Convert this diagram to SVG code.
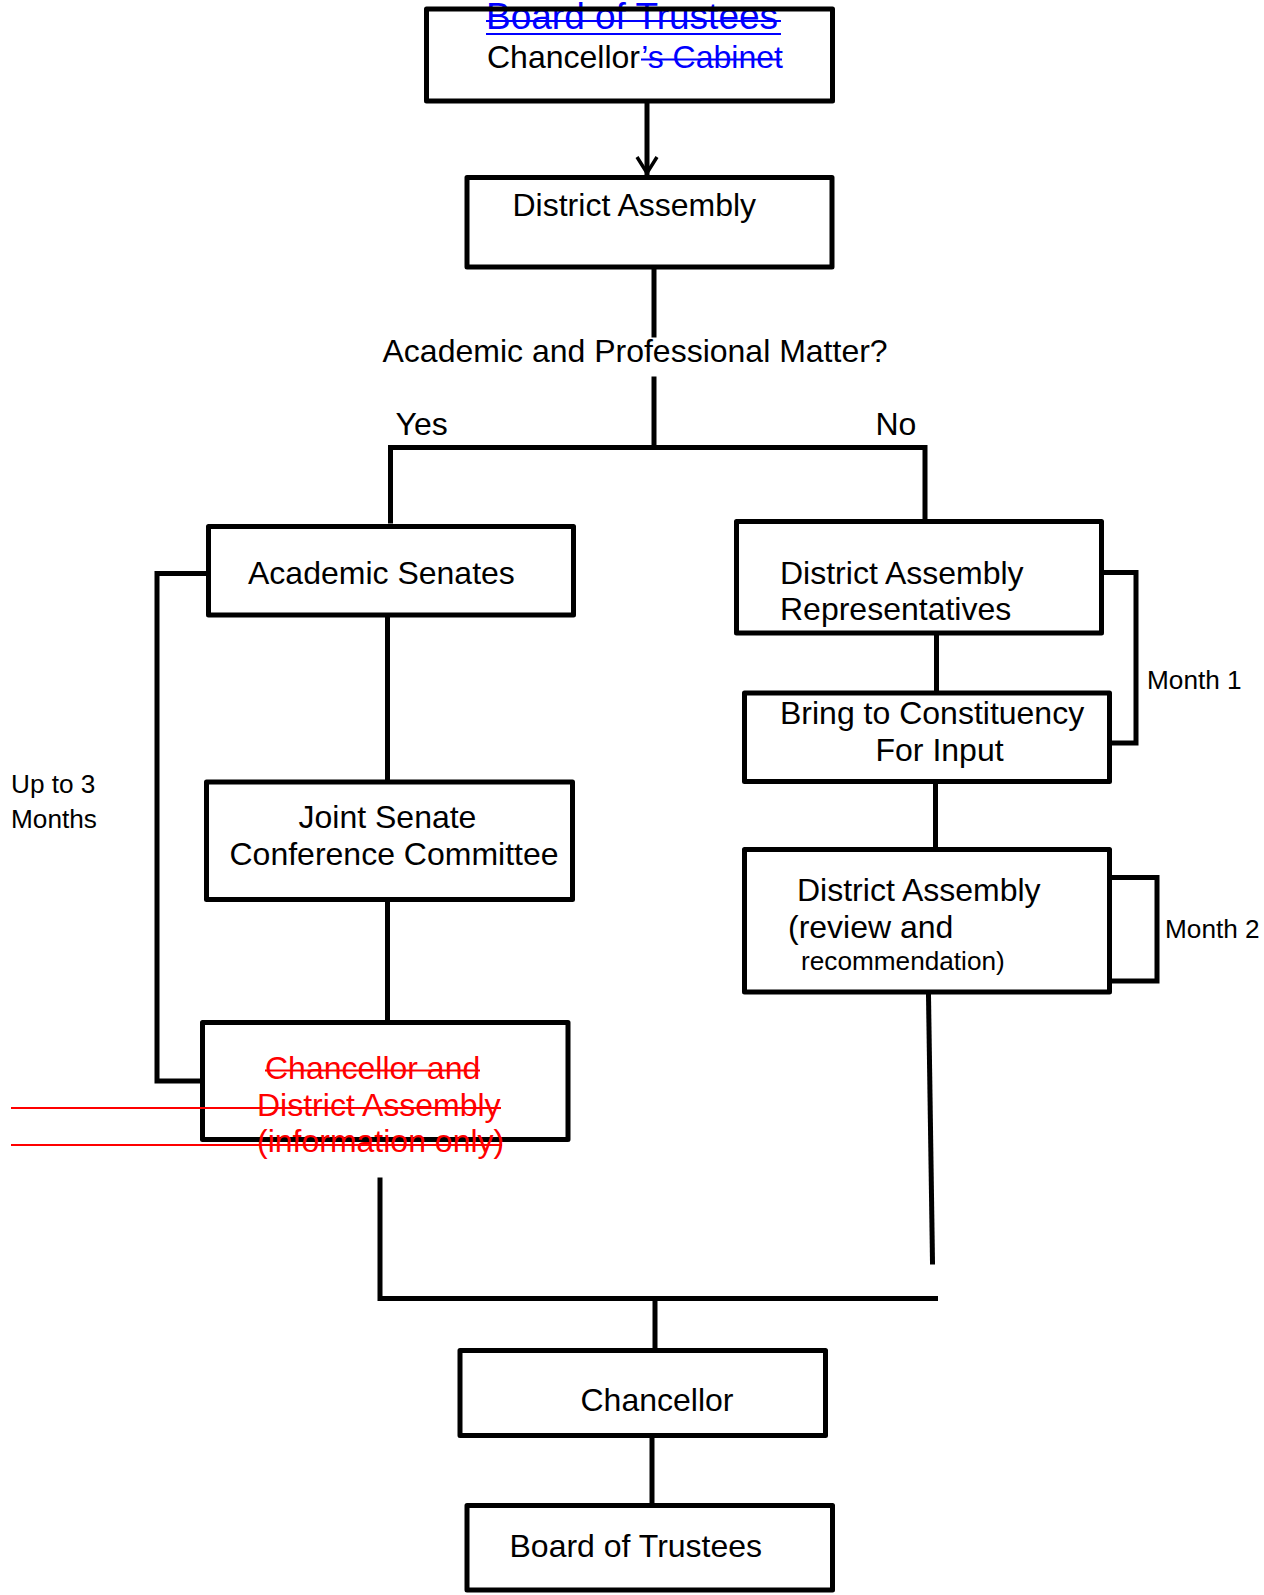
<svg xmlns="http://www.w3.org/2000/svg" width="1264" height="1595" viewBox="0 0 1264 1595">
<defs>
<style>
.box{fill:#fff;stroke:#000;stroke-width:5;stroke-linejoin:round}
.frame{fill:none;stroke:#000;stroke-width:5;stroke-linejoin:round}
.ln{fill:none;stroke:#000;stroke-width:5;stroke-linecap:square}
.t{font-family:"Liberation Sans",Arial,sans-serif;font-size:32px;fill:#000}
.s{font-family:"Liberation Sans",Arial,sans-serif;font-size:26.2px;fill:#000}
.blue{fill:#0000ff}
.red{fill:#ff0000}
.bl{stroke:#0000ff;stroke-width:2.2}
.rl{stroke:#ff0000;stroke-width:2.2}
</style>
<marker id="arr" viewBox="0 0 24 20" refX="12" refY="18" markerWidth="24" markerHeight="20" markerUnits="userSpaceOnUse" orient="0">
<path d="M2,2 L12,18 L22,2" fill="none" stroke="#000" stroke-width="3.5"/>
</marker>
</defs>
<rect width="1264" height="1595" fill="#fff"/>

<g id="connectors">
<line class="ln" x1="647" y1="103" x2="647" y2="173" marker-end="url(#arr)" stroke-linecap="butt" stroke-width="3.5"/>
<line class="ln" x1="654" y1="268" x2="654" y2="335" stroke-linecap="butt"/>
<line class="ln" x1="654" y1="379" x2="654" y2="447" stroke-linecap="butt"/>
<polyline class="ln" points="390.5,521 390.5,447.5 925,447.5 925,519"/>
<line class="ln" x1="387.5" y1="618" x2="387.5" y2="780"/>
<line class="ln" x1="387.5" y1="902" x2="387.5" y2="1020"/>
<polyline class="ln" points="206,573.5 157,573.5 157,1081 200,1081" stroke-linecap="butt"/>
<line class="ln" x1="936.5" y1="636" x2="936.5" y2="690"/>
<line class="ln" x1="935.5" y1="784" x2="935.5" y2="847"/>
<polyline class="ln" points="1103,572.5 1136,572.5 1136,743 1112,743" stroke-linecap="butt"/>
<polyline class="ln" points="1111.5,877.5 1157,877.5 1157,981 1111.5,981" stroke-linecap="butt"/>
<line class="ln" x1="928.5" y1="995" x2="932.5" y2="1262" stroke-linecap="butt"/>
<polyline class="ln" points="380,1180 380,1298.5 935.5,1298.5" stroke-linecap="butt"/>
<line class="ln" x1="655" y1="1298.5" x2="655" y2="1348"/>
<line class="ln" x1="652" y1="1438" x2="652" y2="1503"/>
</g>

<g id="node-top">
<text class="t blue" x="486" y="28.5" style="font-size:37px">Board of Trustees</text>
<line class="bl" x1="486" y1="21" x2="781" y2="21"/>
<line class="bl" x1="486" y1="34" x2="781" y2="34"/>
<text class="t" x="487" y="68">Chancellor<tspan class="blue">’s Cabinet</tspan></text>
<line class="bl" x1="641" y1="59.5" x2="782" y2="59.5"/>
<rect class="frame" x="426.5" y="9" width="406" height="92"/>
</g>

<g id="node-district-assembly">
<rect class="box" x="467" y="177.5" width="365" height="89.5"/>
<text class="t" x="512.5" y="215.5">District Assembly</text>
</g>

<g id="label-question">
<text class="t" x="382.5" y="362">Academic and Professional Matter?</text>
<text class="t" x="395.5" y="435">Yes</text>
<text class="t" x="875.5" y="435">No</text>
</g>

<g id="node-academic-senates">
<rect class="box" x="208.5" y="526.5" width="365" height="88.5"/>
<text class="t" x="248" y="583.5">Academic Senates</text>
</g>

<g id="node-joint-senate">
<rect class="box" x="206.5" y="782" width="366" height="117.5"/>
<text class="t" x="298.5" y="828">Joint Senate</text>
<text class="t" x="229.5" y="864.5">Conference Committee</text>
</g>

<g id="node-chancellor-da">
<rect class="box" x="202.5" y="1022.5" width="365.5" height="117"/>
<text class="t red" x="265" y="1079">Chancellor and</text>
<line class="rl" x1="265" y1="1070.5" x2="480" y2="1070.5"/>
<text class="t red" x="257" y="1115.5">District Assembly</text>
<line class="rl" x1="11" y1="1108" x2="501" y2="1108"/>
<text class="t red" x="257" y="1152">(information only)</text>
<line class="rl" x1="11" y1="1145" x2="502" y2="1145"/>
</g>

<g id="label-up-to-3">
<text class="s" x="11" y="793">Up to 3</text>
<text class="s" x="11" y="828">Months</text>
</g>

<g id="node-da-reps">
<rect class="box" x="736.5" y="521.5" width="365" height="111.5"/>
<text class="t" x="780" y="583.5">District Assembly</text>
<text class="t" x="780" y="620">Representatives</text>
</g>

<g id="label-month1">
<text class="s" x="1147" y="688.5">Month 1</text>
</g>

<g id="node-bring">
<rect class="box" x="744.5" y="693" width="365" height="88.5"/>
<text class="t" x="780" y="724">Bring to Constituency</text>
<text class="t" x="875.5" y="760.5">For Input</text>
</g>

<g id="node-da-review">
<rect class="box" x="744.5" y="849.5" width="365" height="142.5"/>
<text class="t" x="797" y="901">District Assembly</text>
<text class="t" x="788" y="937.5">(review and</text>
<text class="s" x="801" y="970">recommendation)</text>
</g>

<g id="label-month2">
<text class="s" x="1165" y="937.5">Month 2</text>
</g>

<g id="node-chancellor">
<rect class="box" x="460" y="1350.5" width="365.5" height="85"/>
<text class="t" x="580.5" y="1410.5">Chancellor</text>
</g>

<g id="node-board">
<rect class="box" x="467" y="1505.5" width="365.5" height="84.5"/>
<text class="t" x="509.5" y="1557">Board of Trustees</text>
</g>
</svg>
